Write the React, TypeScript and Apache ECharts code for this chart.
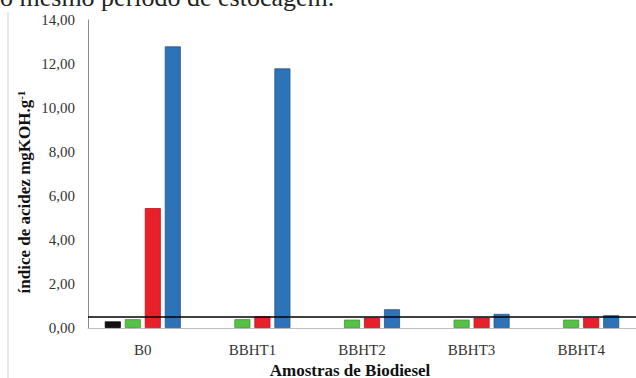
import React, { useEffect, useRef } from "react";
import * as echarts from "echarts";

const categories = ["B0", "BBHT1", "BBHT2", "BBHT3", "BBHT4"];
const seriesBlack = [0.3, null, null, null, null];
const seriesGreen = [0.4, 0.4, 0.38, 0.38, 0.38];
const seriesRed = [5.45, 0.53, 0.47, 0.47, 0.47];
const seriesBlue = [12.8, 11.8, 0.85, 0.64, 0.58];
const limitValue = 0.5;
const yTitle = "índice de acidez mgKOH.g";
const xTitle = "Amostras de Biodiesel";
const topText = "o mesmo período de estocagem.";

export default function App() {
  const ref = useRef<HTMLDivElement>(null);
  useEffect(() => {
    if (!ref.current) return;
    const chart = echarts.init(ref.current, null, { renderer: "svg" });
    const serif = "Liberation Serif";
    const mk = (name: string, data: any[], color: string, border: string, extra: any = {}) => ({
      name,
      type: "bar",
      data,
      barWidth: 16,
      barGap: "25%",
      itemStyle: { color, borderColor: border, borderWidth: 0.8 },
      ...extra,
    });
    chart.setOption({
      animation: false,
      backgroundColor: "#ffffff",
      textStyle: { fontFamily: serif },
      grid: { left: 88, top: 20, width: 552, height: 308, containLabel: false },
      xAxis: {
        type: "category",
        data: categories,
        axisLine: { show: true, lineStyle: { color: "#c0c0c0", width: 1 } },
        axisTick: { show: false },
        axisLabel: { fontFamily: serif, fontSize: 15, fontWeight: "normal", color: "#333", margin: 14 },
      },
      yAxis: {
        type: "value",
        min: 0,
        max: 14,
        interval: 2,
        splitLine: { show: false },
        axisLine: { show: true, lineStyle: { color: "#8c8c8c", width: 1 } },
        axisTick: { show: false },
        axisLabel: {
          fontFamily: serif,
          fontSize: 15,
          color: "#333",
          margin: 13,
          formatter: (v: number) => v.toFixed(2).replace(".", ","),
        },
      },
      series: [
        mk("black", seriesBlack, "#111111", "#000000"),
        mk("green", seriesGreen, "#55c145", "#3e9a33"),
        mk("red", seriesRed, "#e8202a", "#b8141c"),
        mk("blue", seriesBlue, "#2e72b8", "#22578f", {
          markLine: {
            silent: true,
            symbol: "none",
            label: { show: false },
            lineStyle: { color: "#000", width: 1.5, type: "solid" },
            data: [{ yAxis: limitValue }],
          },
        }),
      ],
      graphic: [
        {
          type: "line",
          shape: { x1: 8, y1: 12, x2: 8, y2: 378 },
          style: { stroke: "#e2e2e2", lineWidth: 1.5 },
        },
        {
          type: "text",
          x: 0,
          y: 10,
          style: {
            text: topText,
            fontFamily: serif,
            fontSize: 26,
            fill: "#222",
            align: "left",
            verticalAlign: "bottom",
          },
        },
        {
          type: "text",
          x: 24,
          y: 192,
          rotation: Math.PI / 2,
          style: {
            text: `{a|${yTitle}}{s|-1}`,
            align: "center",
            verticalAlign: "middle",
            rich: {
              a: { fontFamily: serif, fontSize: 17, fontWeight: "bold", fill: "#111" },
              s: { fontFamily: serif, fontSize: 11, fontWeight: "bold", fill: "#111", verticalAlign: "top" },
            },
          },
        },
        {
          type: "text",
          x: 350,
          y: 370,
          style: {
            text: xTitle,
            fontFamily: serif,
            fontSize: 17,
            fontWeight: "bold",
            fill: "#111",
            align: "center",
            verticalAlign: "middle",
          },
        },
      ],
    });
    return () => chart.dispose();
  }, []);
  return <div ref={ref} style={{ width: 636, height: 378, position: "absolute", left: 0, top: 0 }} />;
}
